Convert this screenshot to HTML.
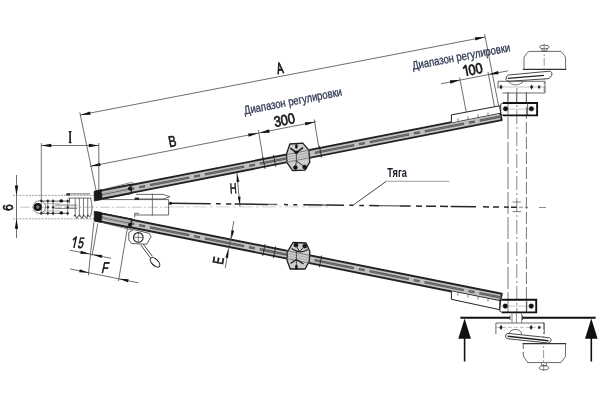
<!DOCTYPE html>
<html><head><meta charset="utf-8"><style>
html,body{margin:0;padding:0;background:#fff;}
svg{display:block;filter:blur(0.45px);}
</style></head><body>
<svg width="600" height="409" viewBox="0 0 600 409">
<rect width="600" height="409" fill="#fff"/>
<line x1="80.00" y1="115.00" x2="485.00" y2="37.00" stroke="#4a4a4a" stroke-width="0.8" stroke-linecap="butt"/>
<polygon points="80.50,115.00 90.00,111.44 90.64,114.78" fill="#111"/>
<polygon points="485.00,37.00 475.50,40.56 474.86,37.22" fill="#111"/>
<line x1="79.80" y1="112.50" x2="97.00" y2="195.00" stroke="#4a4a4a" stroke-width="0.8" stroke-linecap="butt"/>
<line x1="484.60" y1="34.00" x2="500.00" y2="113.00" stroke="#4a4a4a" stroke-width="0.8" stroke-linecap="butt"/>
<line x1="90.00" y1="166.40" x2="316.00" y2="121.70" stroke="#4a4a4a" stroke-width="0.8" stroke-linecap="butt"/>
<polygon points="90.50,166.30 99.98,162.69 100.64,166.03" fill="#111"/>
<polygon points="258.20,133.20 248.72,136.81 248.06,133.47" fill="#111"/>
<polygon points="259.50,132.90 268.98,129.29 269.64,132.63" fill="#111"/>
<polygon points="315.00,121.90 305.52,125.51 304.86,122.17" fill="#111"/>
<line x1="258.30" y1="130.00" x2="264.70" y2="168.00" stroke="#4a4a4a" stroke-width="0.8" stroke-linecap="butt"/>
<line x1="314.20" y1="119.50" x2="320.40" y2="157.00" stroke="#4a4a4a" stroke-width="0.8" stroke-linecap="butt"/>
<line x1="441.00" y1="83.80" x2="508.00" y2="70.80" stroke="#4a4a4a" stroke-width="0.8" stroke-linecap="butt"/>
<polygon points="460.00,80.10 450.51,83.67 449.86,80.34" fill="#111"/>
<polygon points="488.50,74.60 497.99,71.03 498.64,74.36" fill="#111"/>
<line x1="459.60" y1="77.50" x2="467.20" y2="117.00" stroke="#4a4a4a" stroke-width="0.8" stroke-linecap="butt"/>
<line x1="488.00" y1="72.00" x2="495.50" y2="112.00" stroke="#4a4a4a" stroke-width="0.8" stroke-linecap="butt"/>
<line x1="41.30" y1="145.50" x2="98.80" y2="145.50" stroke="#4a4a4a" stroke-width="0.8" stroke-linecap="butt"/>
<polygon points="41.30,145.50 51.30,143.80 51.30,147.20" fill="#111"/>
<polygon points="98.80,145.50 88.80,147.20 88.80,143.80" fill="#111"/>
<line x1="41.30" y1="143.00" x2="41.30" y2="215.00" stroke="#444" stroke-width="0.7" stroke-linecap="butt"/>
<line x1="98.80" y1="143.00" x2="98.80" y2="192.00" stroke="#4a4a4a" stroke-width="0.8" stroke-linecap="butt"/>
<line x1="16.50" y1="175.00" x2="16.50" y2="238.00" stroke="#4a4a4a" stroke-width="0.8" stroke-linecap="butt"/>
<polygon points="16.50,195.40 14.80,185.40 18.20,185.40" fill="#111"/>
<polygon points="16.50,218.80 18.20,228.80 14.80,228.80" fill="#111"/>
<line x1="13.00" y1="195.40" x2="96.00" y2="195.40" stroke="#777" stroke-width="0.7" stroke-linecap="butt" stroke-dasharray="2 1.2"/>
<line x1="13.00" y1="218.80" x2="96.00" y2="218.80" stroke="#777" stroke-width="0.7" stroke-linecap="butt" stroke-dasharray="2 1.2"/>
<line x1="20.00" y1="207.20" x2="170.00" y2="207.20" stroke="#999" stroke-width="0.6" stroke-linecap="butt" stroke-dasharray="10 2 2 2"/>
<polygon points="95.26,192.00 500.26,112.62 501.74,120.18 96.74,199.56" fill="#c0c0c0" stroke="#222" stroke-width="1.9" stroke-linejoin="round"/>
<line x1="96.00" y1="195.78" x2="501.00" y2="116.40" stroke="#555" stroke-width="2.3" stroke-dasharray="40 5 6 5" stroke-dashoffset="1.0"/>
<line x1="96.00" y1="195.78" x2="501.00" y2="116.40" stroke="#808080" stroke-width="0.7" stroke-dasharray="38.6 6.4 4.6 6.4" stroke-dashoffset="0.30000000000000004"/>
<polygon points="96.76,212.72 501.76,293.72 500.24,301.28 95.24,220.28" fill="#c0c0c0" stroke="#222" stroke-width="1.9" stroke-linejoin="round"/>
<line x1="96.00" y1="216.50" x2="501.00" y2="297.50" stroke="#555" stroke-width="2.3" stroke-dasharray="40 5 6 5" stroke-dashoffset="1.0"/>
<line x1="96.00" y1="216.50" x2="501.00" y2="297.50" stroke="#808080" stroke-width="0.7" stroke-dasharray="38.6 6.4 4.6 6.4" stroke-dashoffset="0.30000000000000004"/>
<polyline points="451.40,122.40 451.40,114.90 499.60,105.80 500.60,112.70" fill="#fff" stroke="#222" stroke-width="1.0" stroke-linejoin="round"/>
<line x1="458.00" y1="120.93" x2="458.00" y2="118.23" stroke="#444" stroke-width="0.7" stroke-linecap="butt"/>
<line x1="468.00" y1="118.97" x2="468.00" y2="116.27" stroke="#444" stroke-width="0.7" stroke-linecap="butt"/>
<line x1="478.00" y1="117.01" x2="478.00" y2="114.31" stroke="#444" stroke-width="0.7" stroke-linecap="butt"/>
<line x1="488.00" y1="115.05" x2="488.00" y2="112.35" stroke="#444" stroke-width="0.7" stroke-linecap="butt"/>
<polyline points="451.40,291.30 451.40,299.30 499.60,309.70 500.60,301.30" fill="#fff" stroke="#222" stroke-width="1.0" stroke-linejoin="round"/>
<line x1="458.00" y1="292.80" x2="458.00" y2="295.50" stroke="#444" stroke-width="0.7" stroke-linecap="butt"/>
<line x1="468.00" y1="294.80" x2="468.00" y2="297.50" stroke="#444" stroke-width="0.7" stroke-linecap="butt"/>
<line x1="478.00" y1="296.80" x2="478.00" y2="299.50" stroke="#444" stroke-width="0.7" stroke-linecap="butt"/>
<line x1="488.00" y1="298.80" x2="488.00" y2="301.50" stroke="#444" stroke-width="0.7" stroke-linecap="butt"/>
<polygon points="289.80,144.00 302.80,143.10 308.80,150.10 309.80,162.20 305.10,170.10 292.60,170.60 287.00,162.70 286.50,154.30" fill="#cdcdcd" stroke="#1e1e1e" stroke-width="1.3" stroke-linejoin="round"/>
<line x1="286.00" y1="154.69" x2="310.00" y2="149.99" stroke="#666" stroke-width="0.8" stroke-linecap="butt"/>
<line x1="286.00" y1="162.39" x2="310.00" y2="157.69" stroke="#666" stroke-width="0.8" stroke-linecap="butt"/>
<line x1="286.00" y1="157.24" x2="310.00" y2="152.54" stroke="#888" stroke-width="0.5" stroke-linecap="butt"/>
<line x1="286.00" y1="159.84" x2="310.00" y2="155.14" stroke="#888" stroke-width="0.5" stroke-linecap="butt"/>
<rect x="295.2" y="144.2" width="2.4" height="4.4" rx="0.8" fill="#111"/>
<polyline points="290.20,148.20 296.40,152.60 303.00,147.60" fill="none" stroke="#1a1a1a" stroke-width="1.6" stroke-linejoin="round"/>
<circle cx="296.40" cy="152.40" r="1.6" fill="#111" stroke="#111" stroke-width="0.3"/>
<polyline points="295.40,167.40 296.40,161.00 304.60,166.90" fill="none" stroke="#333" stroke-width="1.0" stroke-linejoin="round"/>
<circle cx="295.40" cy="167.60" r="2.1" fill="#111" stroke="#111" stroke-width="0.3"/>
<circle cx="304.60" cy="167.10" r="2.1" fill="#111" stroke="#111" stroke-width="0.3"/>
<line x1="296.40" y1="153.00" x2="296.40" y2="161.00" stroke="#333" stroke-width="0.8" stroke-linecap="butt"/>
<polygon points="293.00,242.50 306.00,243.00 309.80,251.30 309.30,261.10 305.10,269.00 290.20,269.00 287.00,260.20 287.40,251.80" fill="#cdcdcd" stroke="#1e1e1e" stroke-width="1.3" stroke-linejoin="round"/>
<line x1="286.00" y1="250.65" x2="310.00" y2="255.45" stroke="#666" stroke-width="0.8" stroke-linecap="butt"/>
<line x1="286.00" y1="258.35" x2="310.00" y2="263.15" stroke="#666" stroke-width="0.8" stroke-linecap="butt"/>
<line x1="286.00" y1="253.20" x2="310.00" y2="258.00" stroke="#888" stroke-width="0.5" stroke-linecap="butt"/>
<line x1="286.00" y1="255.80" x2="310.00" y2="260.60" stroke="#888" stroke-width="0.5" stroke-linecap="butt"/>
<circle cx="296.00" cy="245.20" r="2.1" fill="#111" stroke="#111" stroke-width="0.3"/>
<circle cx="304.70" cy="246.20" r="2.1" fill="#111" stroke="#111" stroke-width="0.3"/>
<polyline points="296.00,245.40 299.50,251.50 304.70,246.40" fill="none" stroke="#333" stroke-width="1.0" stroke-linejoin="round"/>
<path d="M291.5,248.5 Q300,254.5 308,249.5" fill="none" stroke="#222" stroke-width="1.2"/>
<polyline points="290.50,263.50 296.40,259.50 303.50,264.00" fill="none" stroke="#1a1a1a" stroke-width="1.4" stroke-linejoin="round"/>
<rect x="295.2" y="265.0" width="2.4" height="4.6" rx="0.8" fill="#111"/>
<line x1="296.40" y1="252.00" x2="296.40" y2="265.00" stroke="#333" stroke-width="0.8" stroke-linecap="butt"/>
<line x1="262.75" y1="156.98" x2="265.05" y2="168.76" stroke="#222" stroke-width="0.9" stroke-linecap="butt"/>
<line x1="265.08" y1="244.20" x2="262.72" y2="255.96" stroke="#222" stroke-width="0.9" stroke-linecap="butt"/>
<line x1="273.45" y1="154.89" x2="275.75" y2="166.66" stroke="#222" stroke-width="0.9" stroke-linecap="butt"/>
<line x1="275.78" y1="246.34" x2="273.42" y2="258.10" stroke="#222" stroke-width="0.9" stroke-linecap="butt"/>
<line x1="319.35" y1="145.89" x2="321.65" y2="157.67" stroke="#222" stroke-width="0.9" stroke-linecap="butt"/>
<line x1="321.68" y1="255.52" x2="319.32" y2="267.28" stroke="#222" stroke-width="0.9" stroke-linecap="butt"/>
<line x1="170.00" y1="203.30" x2="210.70" y2="203.76" stroke="#262626" stroke-width="1.5" stroke-linecap="butt"/>
<line x1="216.00" y1="203.82" x2="220.70" y2="203.87" stroke="#262626" stroke-width="1.5" stroke-linecap="butt"/>
<line x1="226.00" y1="203.93" x2="231.30" y2="203.99" stroke="#262626" stroke-width="1.5" stroke-linecap="butt"/>
<line x1="234.70" y1="204.03" x2="268.00" y2="204.41" stroke="#262626" stroke-width="1.5" stroke-linecap="butt"/>
<line x1="284.00" y1="204.59" x2="288.00" y2="204.63" stroke="#262626" stroke-width="1.5" stroke-linecap="butt"/>
<line x1="293.30" y1="204.69" x2="297.30" y2="204.74" stroke="#262626" stroke-width="1.5" stroke-linecap="butt"/>
<line x1="303.30" y1="204.81" x2="322.00" y2="205.02" stroke="#262626" stroke-width="1.5" stroke-linecap="butt"/>
<line x1="326.00" y1="205.06" x2="344.00" y2="205.27" stroke="#262626" stroke-width="1.5" stroke-linecap="butt"/>
<line x1="349.30" y1="205.33" x2="353.30" y2="205.37" stroke="#262626" stroke-width="1.5" stroke-linecap="butt"/>
<line x1="359.30" y1="205.44" x2="364.00" y2="205.49" stroke="#262626" stroke-width="1.5" stroke-linecap="butt"/>
<line x1="369.30" y1="205.55" x2="379.30" y2="205.67" stroke="#262626" stroke-width="1.5" stroke-linecap="butt"/>
<line x1="400.00" y1="205.90" x2="410.70" y2="206.02" stroke="#262626" stroke-width="1.5" stroke-linecap="butt"/>
<line x1="416.00" y1="206.08" x2="422.00" y2="206.15" stroke="#262626" stroke-width="1.5" stroke-linecap="butt"/>
<line x1="426.00" y1="206.19" x2="436.00" y2="206.31" stroke="#262626" stroke-width="1.5" stroke-linecap="butt"/>
<line x1="440.00" y1="206.35" x2="448.00" y2="206.44" stroke="#262626" stroke-width="1.5" stroke-linecap="butt"/>
<line x1="450.70" y1="206.47" x2="476.00" y2="206.76" stroke="#262626" stroke-width="1.5" stroke-linecap="butt"/>
<line x1="483.00" y1="206.84" x2="489.00" y2="206.90" stroke="#262626" stroke-width="1.5" stroke-linecap="butt"/>
<line x1="493.00" y1="206.95" x2="499.00" y2="207.02" stroke="#262626" stroke-width="1.5" stroke-linecap="butt"/>
<line x1="504.00" y1="207.07" x2="509.00" y2="207.13" stroke="#262626" stroke-width="1.5" stroke-linecap="butt"/>
<line x1="511.00" y1="207.15" x2="517.00" y2="207.22" stroke="#262626" stroke-width="1.5" stroke-linecap="butt"/>
<line x1="268.00" y1="204.41" x2="277.30" y2="204.51" stroke="#666" stroke-width="1.3" stroke-linecap="butt"/>
<line x1="322.00" y1="205.02" x2="326.00" y2="205.06" stroke="#666" stroke-width="1.3" stroke-linecap="butt"/>
<line x1="379.30" y1="205.67" x2="400.00" y2="205.90" stroke="#666" stroke-width="1.3" stroke-linecap="butt"/>
<line x1="519.00" y1="207.24" x2="523.00" y2="207.29" stroke="#8a8a8a" stroke-width="1.1" stroke-linecap="butt"/>
<line x1="525.00" y1="207.31" x2="528.00" y2="207.35" stroke="#8a8a8a" stroke-width="1.1" stroke-linecap="butt"/>
<line x1="539.00" y1="207.47" x2="546.00" y2="207.55" stroke="#8a8a8a" stroke-width="1.1" stroke-linecap="butt"/>
<line x1="170.00" y1="206.90" x2="330.00" y2="206.90" stroke="#b5b5b5" stroke-width="0.6" stroke-linecap="butt" stroke-dasharray="14 3 3 3"/>
<circle cx="170.50" cy="203.40" r="1.4" fill="#111" stroke="#111" stroke-width="0.3"/>
<polyline points="352.50,205.60 386.30,181.30" fill="none" stroke="#333" stroke-width="0.9" stroke-linejoin="round"/>
<line x1="386.30" y1="181.30" x2="449.30" y2="181.30" stroke="#777" stroke-width="0.7" stroke-linecap="butt"/>
<text transform="translate(387.20,176.80) rotate(0.00) scale(0.77,1)" font-family="Liberation Sans" font-size="12" font-weight="bold" font-style="normal" fill="#1c1c2c" text-anchor="start">Тяга</text>
<line x1="508.00" y1="92.00" x2="508.00" y2="312.00" stroke="#555" stroke-width="0.8" stroke-linecap="butt" stroke-dasharray="22 3"/>
<line x1="516.80" y1="88.00" x2="516.80" y2="312.00" stroke="#555" stroke-width="0.7" stroke-linecap="butt" stroke-dasharray="14 3 2 3"/>
<line x1="526.40" y1="92.00" x2="526.40" y2="312.00" stroke="#555" stroke-width="0.8" stroke-linecap="butt" stroke-dasharray="12 3"/>
<line x1="512.50" y1="202.00" x2="521.00" y2="202.00" stroke="#333" stroke-width="0.6" stroke-linecap="butt"/>
<line x1="512.50" y1="211.60" x2="521.00" y2="211.60" stroke="#333" stroke-width="0.6" stroke-linecap="butt"/>
<polyline points="502.9,103 537.1,103 537.1,115.4 502.9,115.4" fill="none" stroke="#111" stroke-width="1.9"/>
<polyline points="502.90,103.00 500.70,104.20 500.70,114.20 502.90,115.40" fill="none" stroke="#222" stroke-width="0.9" stroke-linejoin="round"/>
<line x1="500.70" y1="109.20" x2="537.10" y2="109.20" stroke="#999" stroke-width="0.5" stroke-linecap="butt"/>
<circle cx="505.60" cy="108.80" r="2.3" fill="#111" stroke="#111" stroke-width="0.4"/>
<circle cx="531.40" cy="108.80" r="2.3" fill="#111" stroke="#111" stroke-width="0.4"/>
<line x1="527.60" y1="103.00" x2="527.60" y2="115.40" stroke="#333" stroke-width="0.8" stroke-linecap="butt"/>
<polyline points="502.0,299.8 536.2,299.8 536.2,312.40000000000003 502.0,312.40000000000003" fill="none" stroke="#111" stroke-width="1.9"/>
<polyline points="502.00,299.80 499.80,301.00 499.80,311.20 502.00,312.40" fill="none" stroke="#222" stroke-width="0.9" stroke-linejoin="round"/>
<line x1="499.80" y1="306.10" x2="536.20" y2="306.10" stroke="#999" stroke-width="0.5" stroke-linecap="butt"/>
<circle cx="505.30" cy="306.10" r="2.3" fill="#111" stroke="#111" stroke-width="0.4"/>
<circle cx="531.20" cy="306.10" r="2.3" fill="#111" stroke="#111" stroke-width="0.4"/>
<line x1="526.70" y1="299.80" x2="526.70" y2="312.40" stroke="#333" stroke-width="0.8" stroke-linecap="butt"/>
<ellipse cx="544.5" cy="47" rx="4.8" ry="1.9" fill="#fff" stroke="#444" stroke-width="0.8"/>
<polyline points="542.00,48.80 542.00,51.00 547.00,51.00 547.00,48.80" fill="none" stroke="#444" stroke-width="0.7" stroke-linejoin="round"/>
<path d="M524,68.8 L524,57.5 L526.5,53.5 L529,51.4 L561,51.4 L564.5,55.5 L565.6,58 L565.6,68.8" fill="none" stroke="#444" stroke-width="0.8"/>
<line x1="522.80" y1="69.40" x2="566.40" y2="69.40" stroke="#333" stroke-width="1.2" stroke-linecap="butt"/>
<line x1="544.20" y1="44.00" x2="544.20" y2="92.00" stroke="#555" stroke-width="0.6" stroke-linecap="butt" stroke-dasharray="8 2 2 2"/>
<path d="M506,79.5 Q505.5,76 508.5,75 L549.5,71.2 Q552.8,71.8 551.6,75.6 L549,78.6 L510,81.2 Q506.5,81.6 506,79.5 Z" fill="#fff" stroke="#333" stroke-width="0.9"/>
<line x1="507.80" y1="78.40" x2="544.00" y2="75.40" stroke="#222" stroke-width="1.4" stroke-linecap="butt"/>
<path d="M507.5,80.6 Q514,88.5 523,82.2" fill="none" stroke="#444" stroke-width="0.7"/>
<polyline points="498.00,88.50 498.00,81.30 545.00,81.30 545.00,93.00 502.30,93.00" fill="none" stroke="#444" stroke-width="0.8" stroke-linejoin="round"/>
<line x1="498.00" y1="87.00" x2="545.00" y2="87.00" stroke="#888" stroke-width="0.5" stroke-linecap="butt"/>
<polygon points="501,84.4 502.6,87 501,89.6 499.4,87" fill="#222"/>
<polygon points="531.6,84.4 533.2,87 531.6,89.6 530.0,87" fill="#222"/>
<ellipse cx="539.1" cy="87" rx="1.3" ry="1.7" fill="#333"/>
<line x1="507.80" y1="93.00" x2="507.80" y2="103.00" stroke="#555" stroke-width="0.7" stroke-linecap="butt"/>
<line x1="516.60" y1="93.00" x2="516.60" y2="103.00" stroke="#555" stroke-width="0.7" stroke-linecap="butt"/>
<line x1="526.40" y1="93.00" x2="526.40" y2="103.00" stroke="#555" stroke-width="0.7" stroke-linecap="butt"/>
<ellipse cx="544" cy="367.8" rx="4.8" ry="2.1" fill="#fff" stroke="#444" stroke-width="0.8"/>
<polyline points="541.60,363.00 541.60,365.70 546.40,365.70 546.40,363.00" fill="none" stroke="#444" stroke-width="0.7" stroke-linejoin="round"/>
<path d="M523.3,344.2 L523.3,349 M523.3,352 L523.3,356 L527,361.4 L527.6,362.6 L561,362.6 L565.4,356.5 L565.6,344.2" fill="none" stroke="#444" stroke-width="0.8"/>
<line x1="522.50" y1="343.60" x2="566.20" y2="343.60" stroke="#333" stroke-width="1.1" stroke-linecap="butt"/>
<line x1="543.60" y1="322.00" x2="543.60" y2="371.00" stroke="#555" stroke-width="0.6" stroke-linecap="butt" stroke-dasharray="8 2 2 2"/>
<path d="M505.4,336.3 Q505,334 508,333.4 L549.6,337.8 Q552.4,339.3 550.6,341.8 L548.4,343 L508,338.8 Q505.6,338.2 505.4,336.3 Z" fill="#fff" stroke="#333" stroke-width="0.9"/>
<path d="M509.3,333.6 A6,4.6 0 0 1 521.5,334.6" fill="none" stroke="#444" stroke-width="0.8"/>
<line x1="507.50" y1="336.20" x2="548.50" y2="340.80" stroke="#222" stroke-width="1.4" stroke-linecap="butt"/>
<polyline points="495.90,334.00 495.90,323.00 544.30,323.00 544.30,334.00" fill="none" stroke="#444" stroke-width="0.8" stroke-linejoin="round"/>
<line x1="495.90" y1="327.40" x2="544.30" y2="327.40" stroke="#888" stroke-width="0.5" stroke-linecap="butt" stroke-dasharray="4 2"/>
<polygon points="501,324.8 502.6,327.4 501,330 499.4,327.4" fill="#222"/>
<polygon points="531.1,324.8 532.7,327.4 531.1,330 529.5,327.4" fill="#222"/>
<ellipse cx="539.2" cy="327.4" rx="1.3" ry="1.7" fill="#333"/>
<line x1="512.00" y1="312.50" x2="512.00" y2="323.00" stroke="#555" stroke-width="0.7" stroke-linecap="butt"/>
<line x1="516.40" y1="312.50" x2="516.40" y2="323.00" stroke="#555" stroke-width="0.7" stroke-linecap="butt"/>
<line x1="521.60" y1="312.50" x2="521.60" y2="323.00" stroke="#555" stroke-width="0.7" stroke-linecap="butt"/>
<line x1="460.40" y1="317.80" x2="510.00" y2="317.80" stroke="#111" stroke-width="2.0" stroke-linecap="butt"/>
<line x1="522.50" y1="317.80" x2="595.60" y2="317.80" stroke="#111" stroke-width="2.0" stroke-linecap="butt"/>
<line x1="510.00" y1="315.50" x2="510.00" y2="320.00" stroke="#333" stroke-width="0.8" stroke-linecap="butt"/>
<line x1="522.50" y1="315.50" x2="522.50" y2="320.00" stroke="#333" stroke-width="0.8" stroke-linecap="butt"/>
<polygon points="464.6,318.4 458.3,338.8 470.9,338.8" fill="#111"/>
<line x1="464.60" y1="338.00" x2="464.60" y2="361.50" stroke="#111" stroke-width="1.6" stroke-linecap="butt"/>
<polygon points="591.3,318.4 585.0,338.8 597.6,338.8" fill="#111"/>
<line x1="591.30" y1="338.00" x2="591.30" y2="361.50" stroke="#111" stroke-width="1.6" stroke-linecap="butt"/>
<line x1="236.80" y1="173.20" x2="240.00" y2="206.50" stroke="#4a4a4a" stroke-width="0.8" stroke-linecap="butt"/>
<polygon points="237.20,173.40 239.36,181.74 236.57,181.99" fill="#111"/>
<polygon points="239.90,205.00 237.74,196.66 240.53,196.41" fill="#111"/>
<line x1="233.90" y1="221.00" x2="225.20" y2="268.20" stroke="#4a4a4a" stroke-width="0.8" stroke-linecap="butt"/>
<polygon points="231.20,239.30 231.45,230.20 234.21,230.70" fill="#111"/>
<polygon points="228.40,248.80 228.15,257.90 225.39,257.40" fill="#111"/>
<line x1="93.90" y1="221.90" x2="88.30" y2="275.50" stroke="#4a4a4a" stroke-width="0.8" stroke-linecap="butt"/>
<line x1="97.80" y1="223.50" x2="92.10" y2="255.50" stroke="#4a4a4a" stroke-width="0.8" stroke-linecap="butt"/>
<line x1="128.50" y1="221.70" x2="118.50" y2="281.00" stroke="#4a4a4a" stroke-width="0.8" stroke-linecap="butt"/>
<line x1="69.80" y1="250.20" x2="111.00" y2="258.30" stroke="#4a4a4a" stroke-width="0.8" stroke-linecap="butt"/>
<polygon points="89.90,254.10 80.29,253.74 80.87,250.79" fill="#111"/>
<polygon points="92.60,254.60 102.21,254.96 101.63,257.91" fill="#111"/>
<line x1="69.80" y1="268.90" x2="138.30" y2="282.80" stroke="#4a4a4a" stroke-width="0.8" stroke-linecap="butt"/>
<polygon points="88.80,272.70 79.19,272.31 79.78,269.37" fill="#111"/>
<polygon points="119.00,278.80 128.61,279.19 128.02,282.13" fill="#111"/>
<text transform="translate(281.00,73.30) rotate(-10.80) scale(0.62,1)" font-family="Liberation Sans" font-size="15.5" font-weight="normal" font-style="normal" fill="#151515" text-anchor="middle" stroke="#151515" stroke-width="0.9">A</text>
<text transform="translate(173.20,146.50) rotate(-10.80) scale(0.75,1)" font-family="Liberation Sans" font-size="15.5" font-weight="normal" font-style="normal" fill="#151515" text-anchor="middle" stroke="#151515" stroke-width="0.6">B</text>
<text transform="translate(285.30,125.00) rotate(-11.00) scale(0.86,1)" font-family="Liberation Sans" font-size="14.8" font-weight="normal" font-style="normal" fill="#1a1a1a" text-anchor="middle" stroke="#1a1a1a" stroke-width="0.75">300</text>
<g transform="translate(473.0,74.8) rotate(-11) scale(0.86,1)"><text x="-4.1" y="0" font-family="Liberation Sans" font-size="14.8" fill="#1a1a1a" stroke="#1a1a1a" stroke-width="0.75">00</text><path d="M-6.3,0.2 L-6.3,-10.5 L-9.9,-7.9" fill="none" stroke="#1a1a1a" stroke-width="2.0" stroke-linejoin="round"/></g>
<text transform="translate(233.50,193.30) rotate(-4.00) scale(0.64,1)" font-family="Liberation Sans" font-size="14.5" font-weight="normal" font-style="normal" fill="#151515" text-anchor="middle" stroke="#151515" stroke-width="0.6">H</text>
<text transform="translate(13.30,207.50) rotate(-90.00) scale(0.85,1)" font-family="Liberation Sans" font-size="14.5" font-weight="normal" font-style="normal" fill="#151515" text-anchor="middle" stroke="#151515" stroke-width="0.6">6</text>
<text transform="translate(223.30,261.40) rotate(-79.60) scale(0.72,1)" font-family="Liberation Sans" font-size="15" font-weight="normal" font-style="normal" fill="#151515" text-anchor="middle" stroke="#151515" stroke-width="0.6">E</text>
<g transform="translate(76.8,247.8) skewX(-12) scale(0.68,1)"><text x="0.6" y="0" font-family="Liberation Sans" font-size="15" fill="#151515" stroke="#151515" stroke-width="0.6">5</text><path d="M-4.2,0.2 L-4.2,-10.6 L-8.2,-7.8" fill="none" stroke="#151515" stroke-width="2.1" stroke-linejoin="round"/></g>
<text transform="translate(104.20,272.80) rotate(0.00) skewX(-13) scale(0.68,1)" font-family="Liberation Sans" font-size="15.5" font-weight="normal" font-style="normal" fill="#151515" text-anchor="middle" stroke="#151515" stroke-width="0.7">F</text>
<line x1="70.10" y1="131.60" x2="70.10" y2="142.60" stroke="#181818" stroke-width="1.6" stroke-linecap="butt"/>
<line x1="68.80" y1="131.60" x2="71.50" y2="131.60" stroke="#181818" stroke-width="1.2" stroke-linecap="butt"/>
<line x1="68.80" y1="142.60" x2="71.50" y2="142.60" stroke="#181818" stroke-width="1.2" stroke-linecap="butt"/>
<text transform="translate(244.80,114.40) rotate(-10.90) scale(0.795,1)" font-family="Liberation Sans" font-size="12" font-weight="normal" font-style="normal" fill="#2f3852" text-anchor="start" stroke="#2f3852" stroke-width="0.3">Диапазон регулировки</text>
<text transform="translate(413.00,69.70) rotate(-10.70) scale(0.795,1)" font-family="Liberation Sans" font-size="12" font-weight="normal" font-style="normal" fill="#2f3852" text-anchor="start" stroke="#2f3852" stroke-width="0.3">Диапазон регулировки</text>
<circle cx="39.30" cy="207.10" r="6.3" fill="none" stroke="#666" stroke-width="0.8"/>
<circle cx="37.80" cy="207.10" r="2.9" fill="#777" stroke="#111" stroke-width="2.2"/>
<circle cx="41.30" cy="200.80" r="1.1" fill="#222" stroke="#222" stroke-width="0.3"/>
<circle cx="41.30" cy="213.30" r="1.1" fill="#222" stroke="#222" stroke-width="0.3"/>
<line x1="41.40" y1="201.10" x2="68.00" y2="201.10" stroke="#333" stroke-width="0.8" stroke-linecap="butt"/>
<line x1="41.40" y1="213.30" x2="68.00" y2="213.30" stroke="#333" stroke-width="0.8" stroke-linecap="butt"/>
<line x1="47.80" y1="199.30" x2="47.80" y2="215.20" stroke="#444" stroke-width="0.7" stroke-linecap="butt"/>
<circle cx="47.80" cy="201.10" r="1.1" fill="#222" stroke="#222" stroke-width="0.3"/>
<circle cx="47.80" cy="207.30" r="1.1" fill="#222" stroke="#222" stroke-width="0.3"/>
<circle cx="47.80" cy="213.30" r="1.1" fill="#222" stroke="#222" stroke-width="0.3"/>
<line x1="53.10" y1="199.30" x2="53.10" y2="215.20" stroke="#444" stroke-width="0.7" stroke-linecap="butt"/>
<circle cx="53.10" cy="201.10" r="1.1" fill="#222" stroke="#222" stroke-width="0.3"/>
<circle cx="53.10" cy="207.30" r="1.1" fill="#222" stroke="#222" stroke-width="0.3"/>
<circle cx="53.10" cy="213.30" r="1.1" fill="#222" stroke="#222" stroke-width="0.3"/>
<line x1="67.70" y1="199.30" x2="67.70" y2="215.20" stroke="#444" stroke-width="0.7" stroke-linecap="butt"/>
<circle cx="67.70" cy="201.10" r="1.1" fill="#222" stroke="#222" stroke-width="0.3"/>
<circle cx="67.70" cy="207.30" r="1.1" fill="#222" stroke="#222" stroke-width="0.3"/>
<circle cx="67.70" cy="213.30" r="1.1" fill="#222" stroke="#222" stroke-width="0.3"/>
<ellipse cx="61.3" cy="200.9" rx="1.9" ry="1.6" fill="#111"/>
<ellipse cx="61.3" cy="212.9" rx="1.9" ry="1.6" fill="#111"/>
<line x1="54.80" y1="205.10" x2="77.00" y2="205.10" stroke="#444" stroke-width="0.7" stroke-linecap="butt"/>
<line x1="54.80" y1="208.40" x2="77.00" y2="208.40" stroke="#444" stroke-width="0.7" stroke-linecap="butt"/>
<line x1="44.00" y1="203.60" x2="60.00" y2="203.60" stroke="#777" stroke-width="0.5" stroke-linecap="butt"/>
<line x1="44.00" y1="210.90" x2="60.00" y2="210.90" stroke="#777" stroke-width="0.5" stroke-linecap="butt"/>
<line x1="66.40" y1="193.90" x2="90.00" y2="193.90" stroke="#444" stroke-width="0.8" stroke-linecap="butt"/>
<rect x="66.4" y="193.4" width="3.6" height="2.2" fill="#333"/>
<line x1="68.20" y1="198.10" x2="91.40" y2="198.10" stroke="#444" stroke-width="0.8" stroke-linecap="butt"/>
<line x1="69.50" y1="198.10" x2="69.50" y2="203.00" stroke="#333" stroke-width="0.8" stroke-linecap="butt"/>
<line x1="75.20" y1="198.10" x2="75.20" y2="216.60" stroke="#444" stroke-width="0.7" stroke-linecap="butt"/>
<line x1="79.40" y1="198.10" x2="79.40" y2="216.60" stroke="#444" stroke-width="0.7" stroke-linecap="butt"/>
<line x1="83.50" y1="198.10" x2="83.50" y2="216.60" stroke="#444" stroke-width="0.7" stroke-linecap="butt"/>
<line x1="87.70" y1="198.10" x2="87.70" y2="216.60" stroke="#444" stroke-width="0.7" stroke-linecap="butt"/>
<polyline points="73.50,216.00 75.20,214.80 76.60,218.30 79.40,214.80 82.10,218.40 83.50,214.80 86.80,218.40 87.70,214.80 90.00,217.50" fill="none" stroke="#333" stroke-width="0.9" stroke-linejoin="round"/>
<path d="M90.5,198 Q93.6,207.3 90.5,216.6" fill="none" stroke="#444" stroke-width="0.8"/>
<polygon points="100.71,190.68 130.01,184.94 131.59,192.98 102.29,198.73" fill="#9a9a9a" stroke="#222" stroke-width="1.9" stroke-linejoin="round"/>
<line x1="101.08" y1="192.54" x2="130.38" y2="186.80" stroke="#c9c9c9" stroke-width="1.0" stroke-linecap="butt"/>
<line x1="101.50" y1="194.70" x2="130.80" y2="188.96" stroke="#505050" stroke-width="0.8" stroke-linecap="butt"/>
<line x1="101.92" y1="196.86" x2="131.22" y2="191.12" stroke="#c9c9c9" stroke-width="1.0" stroke-linecap="butt"/>
<line x1="101.33" y1="193.82" x2="130.63" y2="188.08" stroke="#bdbdbd" stroke-width="0.6" stroke-linecap="butt"/>
<line x1="101.67" y1="195.59" x2="130.97" y2="189.84" stroke="#bdbdbd" stroke-width="0.6" stroke-linecap="butt"/>
<polygon points="102.30,213.58 131.60,219.44 130.00,227.48 100.70,221.62" fill="#9a9a9a" stroke="#222" stroke-width="1.9" stroke-linejoin="round"/>
<line x1="101.93" y1="215.44" x2="131.23" y2="221.30" stroke="#c9c9c9" stroke-width="1.0" stroke-linecap="butt"/>
<line x1="101.50" y1="217.60" x2="130.80" y2="223.46" stroke="#505050" stroke-width="0.8" stroke-linecap="butt"/>
<line x1="101.07" y1="219.76" x2="130.37" y2="225.62" stroke="#c9c9c9" stroke-width="1.0" stroke-linecap="butt"/>
<line x1="101.68" y1="216.72" x2="130.98" y2="222.58" stroke="#bdbdbd" stroke-width="0.6" stroke-linecap="butt"/>
<line x1="101.32" y1="218.48" x2="130.62" y2="224.34" stroke="#bdbdbd" stroke-width="0.6" stroke-linecap="butt"/>
<polygon points="94.20,191.23 101.20,189.56 101.20,199.76 94.20,201.03" fill="#1a1a1a" stroke="#111" stroke-width="0.6" stroke-linejoin="round"/>
<polygon points="94.20,211.24 101.20,212.34 101.20,222.54 94.20,221.04" fill="#1a1a1a" stroke="#111" stroke-width="0.6" stroke-linejoin="round"/>
<line x1="101.00" y1="199.60" x2="168.60" y2="199.60" stroke="#444" stroke-width="0.8" stroke-linecap="butt"/>
<line x1="134.70" y1="215.00" x2="168.60" y2="215.00" stroke="#444" stroke-width="0.8" stroke-linecap="butt"/>
<line x1="168.60" y1="199.60" x2="168.60" y2="215.00" stroke="#444" stroke-width="0.8" stroke-linecap="butt"/>
<polyline points="136.00,194.40 163.00,194.40 170.00,196.70 163.00,199.00 136.00,199.00" fill="none" stroke="#444" stroke-width="0.8" stroke-linejoin="round"/>
<rect x="134.7" y="197.6" width="4.3" height="2.3" fill="#222"/>
<line x1="152.40" y1="193.50" x2="152.40" y2="215.50" stroke="#444" stroke-width="0.7" stroke-linecap="butt"/>
<polyline points="134.70,217.50 134.70,213.30 139.00,213.30" fill="none" stroke="#444" stroke-width="0.8" stroke-linejoin="round"/>
<circle cx="129.80" cy="188.60" r="1.7" fill="#111" stroke="#111" stroke-width="0.3"/>
<circle cx="129.80" cy="224.70" r="1.7" fill="#111" stroke="#111" stroke-width="0.3"/>
<line x1="131.30" y1="183.66" x2="131.30" y2="194.06" stroke="#222" stroke-width="0.8" stroke-linecap="butt"/>
<line x1="131.30" y1="218.36" x2="131.30" y2="228.76" stroke="#222" stroke-width="0.8" stroke-linecap="butt"/>
<polyline points="101.00,190.10 131.00,182.52 134.00,183.53" fill="none" stroke="#555" stroke-width="0.7" stroke-linejoin="round"/>
<polyline points="101.00,222.20 131.00,229.90 134.00,228.90" fill="none" stroke="#555" stroke-width="0.7" stroke-linejoin="round"/>
<polygon points="128.80,232.50 133.50,229.60 149.50,233.40 151.00,236.50 146.80,244.20 131.50,243.50 128.80,240.00" fill="#fff" stroke="#333" stroke-width="0.8" stroke-linejoin="round"/>
<circle cx="138.30" cy="237.40" r="4.8" fill="#fff" stroke="#222" stroke-width="1.1"/>
<line x1="133.50" y1="237.40" x2="143.10" y2="237.40" stroke="#333" stroke-width="0.6" stroke-linecap="butt"/>
<line x1="138.30" y1="232.60" x2="138.30" y2="242.20" stroke="#333" stroke-width="0.6" stroke-linecap="butt"/>
<line x1="140.70" y1="244.80" x2="150.20" y2="257.60" stroke="#333" stroke-width="0.9" stroke-linecap="butt"/>
<line x1="143.30" y1="244.20" x2="152.40" y2="256.30" stroke="#333" stroke-width="0.9" stroke-linecap="butt"/>
<ellipse cx="155" cy="262.3" rx="6" ry="3.1" transform="rotate(45 155 262.3)" fill="#fff" stroke="#222" stroke-width="1.1"/>
</svg>
</body></html>
